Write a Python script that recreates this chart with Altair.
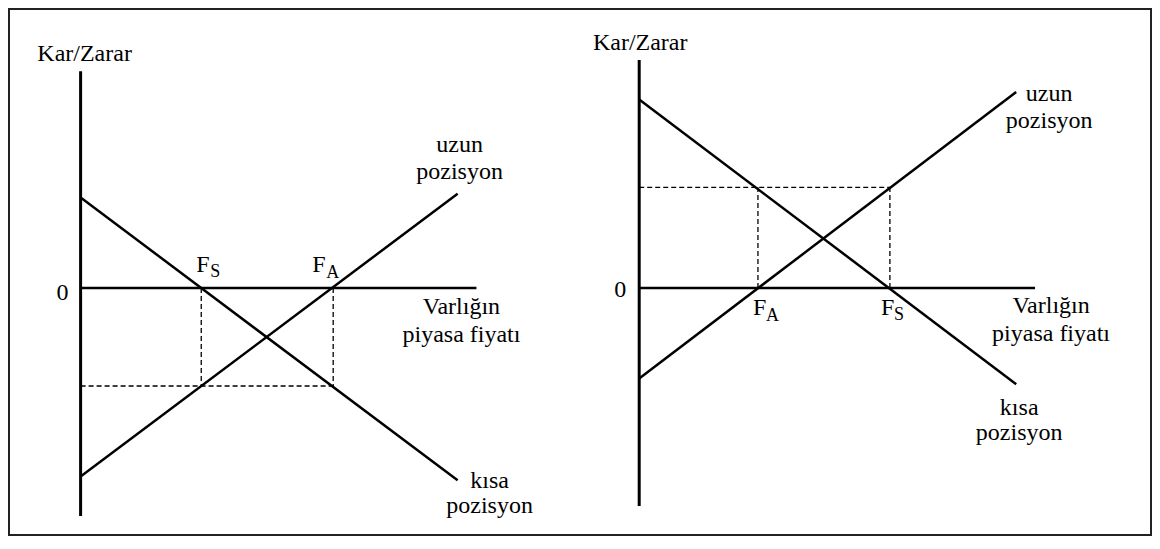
import altair as alt
import pandas as pd

FONT = "Liberation Serif"

# ---------------- data (diagram units) ----------------
PRICE = [0, 100]            # price range covered by the payoff lines
ZERO_LINE_END = 105         # end of the price axis

# left panel: F_S < F_A
L_FS, L_FA = 32, 67
L_SHORT = [24, -51]         # short position payoff at price 0 and 100
L_LONG = [-50, 25]          # long position payoff at price 0 and 100
L_LEVEL = -26               # dashed level
L_AXIS = [57.5, -60.5]      # profit axis extent

# right panel: F_A < F_S
R_FA, R_FS = 31.5, 66.5
R_SHORT = [50, -25.5]
R_LONG = [-24, 52]
R_LEVEL = 26.7
R_AXIS = [60.5, -57.8]

TXT_Y = "Kar/Zarar"
TXT_X = ["Varlığın", "piyasa fiyatı"]
TXT_LONG = ["uzun", "pozisyon"]
TXT_SHORT = ["kısa", "pozisyon"]

# ---------------- layout ----------------
W, H = 1144, 528
K = 3.77                    # pixels per diagram unit
L_ORIGIN = 72.6
R_ORIGIN = 631.2
ZERO_Y = 280
SUB = 18                    # subscript font size

YS = alt.Scale(domain=[(ZERO_Y - H) / K, ZERO_Y / K], nice=False, zero=False)


def xscale(origin):
    return alt.Scale(domain=[-origin / K, (W - origin) / K], nice=False, zero=False)


def segs(rows, width, sc, dash=None):
    df = pd.DataFrame(rows, columns=["x", "y", "x2", "y2"])
    kw = dict(color="black", strokeWidth=width)
    if dash:
        kw["strokeDash"] = dash
    return alt.Chart(df).mark_rule(**kw).encode(
        x=alt.X("x:Q", scale=sc, axis=None),
        y=alt.Y("y:Q", scale=YS, axis=None),
        x2="x2:Q",
        y2="y2:Q",
    )


def label(text, x, y, dx, dy, sc, size=24, align="center"):
    df = pd.DataFrame({"x": [x], "y": [y], "t": [text]})
    return alt.Chart(df).mark_text(
        dx=dx, dy=dy, align=align, baseline="alphabetic",
        font=FONT, fontSize=size, color="black"
    ).encode(
        x=alt.X("x:Q", scale=sc, axis=None),
        y=alt.Y("y:Q", scale=YS, axis=None),
        text=alt.Text("t:N"),
    )


def panel(origin, fs, fa, short, long_, level, axis, lab):
    sc = xscale(origin)
    layers = [
        segs([[0, axis[0], 0, axis[1]]], 3, sc),
        segs([[0, 0, ZERO_LINE_END, 0]], 2.5, sc),
        segs([[PRICE[0], short[0], PRICE[1], short[1]],
              [PRICE[0], long_[0], PRICE[1], long_[1]]], 2.5, sc),
        segs([[0, level, max(fs, fa), level],
              [fs, 0, fs, level],
              [fa, 0, fa, level]], 1.3, sc, dash=[5, 3]),
    ]
    for (t, x, y, dx, dy, size, align) in lab:
        layers.append(label(t, x, y, dx, dy, sc, size, align))
    return alt.layer(*layers)


left_labels = [
    (TXT_Y, 0, L_AXIS[0], 4, -10, 24, "center"),
    ("0", 0, 0, -12, 12, 24, "right"),
    (TXT_LONG[0], PRICE[1], L_LONG[1], 2, -42, 24, "center"),
    (TXT_LONG[1], PRICE[1], L_LONG[1], 2, -15, 24, "center"),
    (TXT_SHORT[0], PRICE[1], L_SHORT[1], 32, 8, 24, "center"),
    (TXT_SHORT[1], PRICE[1], L_SHORT[1], 32, 33, 24, "center"),
    (TXT_X[0], ZERO_LINE_END, 0, -15, 26, 24, "center"),
    (TXT_X[1], ZERO_LINE_END, 0, -15, 54, 24, "center"),
    ("F", L_FS, 0, -5, -16, 24, "left"),
    ("S", L_FS, 0, 9, -11, SUB, "left"),
    ("F", L_FA, 0, -21, -16, 24, "left"),
    ("A", L_FA, 0, -7, -10, SUB, "left"),
]

right_labels = [
    (TXT_Y, 0, R_AXIS[0], 1, -10, 24, "center"),
    ("0", 0, 0, -13, 9, 24, "right"),
    (TXT_LONG[0], PRICE[1], R_LONG[1], 33, 9, 24, "center"),
    (TXT_LONG[1], PRICE[1], R_LONG[1], 33, 36, 24, "center"),
    (TXT_SHORT[0], PRICE[1], R_SHORT[1], 3, 31, 24, "center"),
    (TXT_SHORT[1], PRICE[1], R_SHORT[1], 3, 56, 24, "center"),
    (TXT_X[0], ZERO_LINE_END, 0, 16, 25, 24, "center"),
    (TXT_X[1], ZERO_LINE_END, 0, 16, 53, 24, "center"),
    ("F", R_FA, 0, -5, 27, 24, "left"),
    ("A", R_FA, 0, 8, 33, SUB, "left"),
    ("F", R_FS, 0, -9, 27, 24, "left"),
    ("S", R_FS, 0, 4, 32, SUB, "left"),
]

left = panel(L_ORIGIN, L_FS, L_FA, L_SHORT, L_LONG, L_LEVEL, L_AXIS, left_labels)
right = panel(R_ORIGIN, R_FS, R_FA, R_SHORT, R_LONG, R_LEVEL, R_AXIS, right_labels)

border = alt.Chart(pd.DataFrame({"b": [0]})).mark_rect(
    filled=False, stroke="#222222", strokeWidth=2
).encode(
    x=alt.value(1), x2=alt.value(W - 1), y=alt.value(1), y2=alt.value(H - 1)
)

chart = alt.layer(left, right, border).resolve_scale(x="independent").properties(
    width=W, height=H, padding=0,
    autosize=alt.AutoSizeParams(type="none"),
    background="white",
).configure(font=FONT).configure_text(font=FONT).configure_view(stroke=None)

chart.save("out.html", embed_options={"renderer": "svg", "actions": False})
